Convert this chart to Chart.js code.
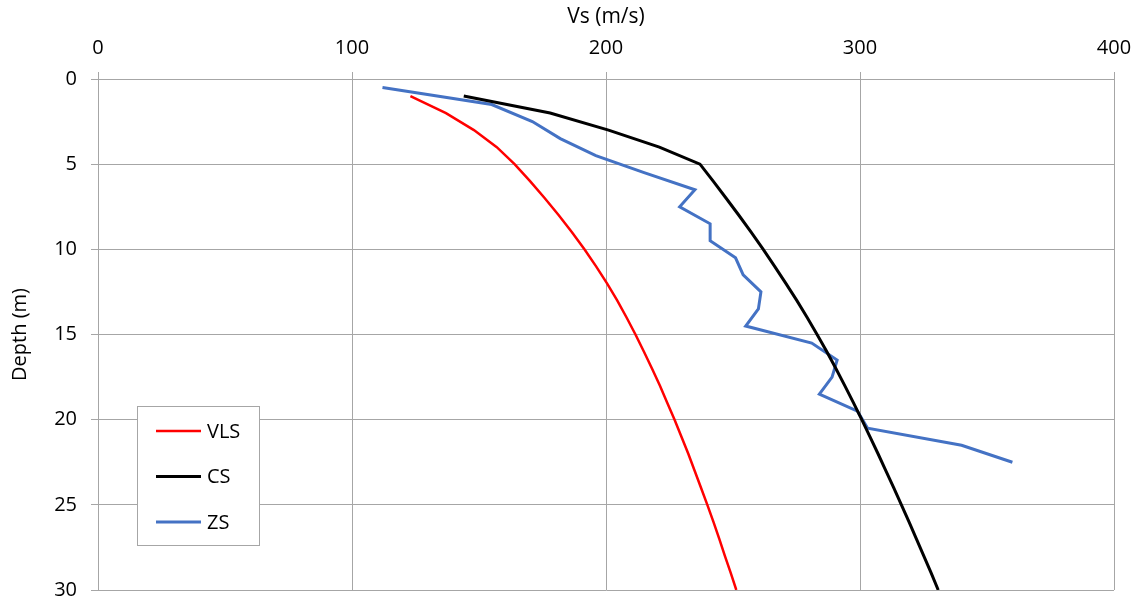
<!DOCTYPE html>
<html lang="en">
  <head>
    <meta charset="UTF-8" />
    <title>Vs profiles</title>
    <script src="https://cdn.jsdelivr.net/npm/chart.js"></script>
    <style>
      body { margin: 0; background: #fff; }
      #wrap { width: 1138px; height: 601px; }
    </style>
  </head>
  <body>
    <div id="wrap"><canvas id="vsChart" width="1138" height="601"></canvas></div>
    <script>
      // depth (m) / Vs (m/s)
      const vlsDepth = [1, 2, 3, 4, 5, 6, 7, 8, 9, 10, 11, 12, 13, 14, 15, 16, 17, 18, 19, 20, 21, 22, 23, 24, 25, 26, 27, 28, 29, 30];
      const vlsVs = [123, 137, 148, 157, 164, 170.1, 175.9, 181.4, 186.6, 191.5, 196.1, 200.4, 204.4, 208.1, 211.6, 214.9, 218.1, 221.2, 224.1, 227, 229.7, 232.4, 234.9, 237.4, 239.9, 242.3, 244.6, 246.8, 249.1, 251.3];

      const csDepth = [1, 2, 3, 4, 5, 6, 7, 8, 9, 10, 11, 12, 13, 14, 15, 16, 17, 18, 19, 20, 21, 22, 23, 24, 25, 26, 27, 28, 29, 30];
      const csVs = [144, 178, 201, 221, 237, 242.2, 247.3, 252.3, 257.2, 261.9, 266.4, 270.8, 275.1, 279.2, 283.1, 286.9, 290.5, 294, 297.4, 300.7, 303.9, 307.1, 310.2, 313.3, 316.3, 319.3, 322.2, 325.1, 328, 330.8];

      const zsDepth = [0.5, 1.5, 2.5, 3.5, 4.5, 5.5, 6.5, 7.5, 8.5, 9.5, 10.5, 11.5, 12.5, 13.5, 14.5, 15.5, 16.5, 17.5, 18.5, 19.5, 20.5, 21.5, 22.5];
      const zsVs = [112, 155, 171, 182, 196, 215, 235, 229, 241, 241, 251, 254, 261, 260, 255, 281, 291, 289, 284, 299, 303, 340, 360];

      const seriesNames = ["VLS", "CS", "ZS"];
      const vsTicks = [0, 100, 200, 300, 400];
      const depthTicks = [0, 5, 10, 15, 20, 25, 30];

      const font = "'Open Sans', 'DejaVu Sans', sans-serif";
      const gridColor = "#a6a6a6";

      const toPoints = (depths, speeds) => depths.map((d, i) => ({ x: speeds[i], y: d }));

      // legend box drawn inside the plot, like the original
      const boxLegend = {
        id: "boxLegend",
        afterDatasetsDraw(chart) {
          const ctx = chart.ctx;
          const left = 137, top = 406, w = 122, h = 139;
          ctx.save();
          ctx.fillStyle = "#fff";
          ctx.fillRect(left, top, w, h);
          ctx.strokeStyle = gridColor;
          ctx.lineWidth = 1;
          ctx.strokeRect(left + 0.5, top + 0.5, w, h);
          ctx.font = "20px " + font;
          ctx.textBaseline = "middle";
          chart.data.datasets.forEach((ds, i) => {
            const y = top + 25 + i * 45.5;
            ctx.strokeStyle = ds.borderColor;
            ctx.lineWidth = ds.borderWidth;
            ctx.beginPath();
            ctx.moveTo(left + 19, y);
            ctx.lineTo(left + 64, y);
            ctx.stroke();
            ctx.fillStyle = "#000";
            ctx.fillText(ds.label, left + 70, y + 1);
          });
          ctx.restore();
        },
      };

      const ctx = document.getElementById("vsChart").getContext("2d");
      new Chart(ctx, {
        type: "scatter",
        data: {
          datasets: [
            { label: seriesNames[0], data: toPoints(vlsDepth, vlsVs), borderColor: "#ff0000", borderWidth: 2.5 },
            { label: seriesNames[1], data: toPoints(csDepth, csVs), borderColor: "#000000", borderWidth: 3 },
            { label: seriesNames[2], data: toPoints(zsDepth, zsVs), borderColor: "#4472c4", borderWidth: 3 },
          ].map((ds) => ({ ...ds, showLine: true, pointRadius: 0, fill: false, tension: 0 })),
        },
        options: {
          responsive: false,
          animation: false,
          layout: { padding: { left: 0, right: 24, top: 0, bottom: 11 } },
          plugins: { legend: { display: false }, tooltip: { enabled: false } },
          scales: {
            x: {
              type: "linear",
              position: "top",
              min: 0,
              max: 400,
              afterBuildTicks: (s) => { s.ticks = vsTicks.map((v) => ({ value: v })); },
              afterFit: (s) => { s.height = 79; s.paddingLeft = 0; s.paddingRight = 0; },
              ticks: { color: "#000", font: { family: font, size: 20 }, padding: 12 },
              grid: { color: gridColor, tickLength: 7 },
              border: { color: gridColor },
              title: { display: true, text: "Vs (m/s)", color: "#000", font: { family: font, size: 21 }, padding: { top: 4, bottom: 0 } },
            },
            y: {
              type: "linear",
              reverse: true,
              min: 0,
              max: 30,
              afterBuildTicks: (s) => { s.ticks = depthTicks.map((v) => ({ value: v })); },
              afterFit: (s) => { s.width = 98; s.paddingTop = 0; s.paddingBottom = 0; },
              ticks: { color: "#000", font: { family: font, size: 20 }, padding: 14 },
              grid: { color: gridColor, tickLength: 7 },
              border: { color: gridColor },
              title: { display: true, text: "Depth (m)", color: "#000", font: { family: font, size: 20 }, padding: { top: 8, bottom: 0 } },
            },
          },
        },
        plugins: [boxLegend],
      });
    </script>
  </body>
</html>
